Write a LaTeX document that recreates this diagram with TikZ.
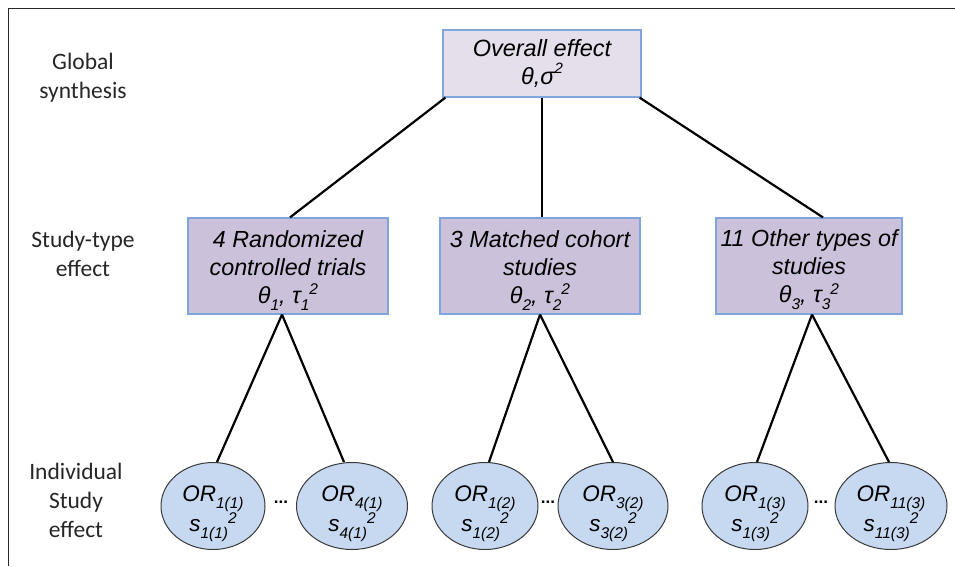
\documentclass[tikz,border=0pt]{standalone}
\usepackage{fontspec}
\setmainfont{Liberation Sans}
\newfontfamily\lblfont{Carlito}
\usetikzlibrary{shapes.geometric}
\definecolor{topfill}{HTML}{E5DFEC}
\definecolor{midfill}{HTML}{CCC1DA}
\definecolor{boxline}{HTML}{7FA5DC}
\definecolor{ellfill}{HTML}{C6D9F1}
\definecolor{ellline}{HTML}{3A3A3A}
\newcommand{\sbs}[1]{\raisebox{-0.3em}{\fontsize{15.5}{15.5}\selectfont #1}}
\newcommand{\sps}[1]{\raisebox{0.38em}{\fontsize{15.5}{15.5}\selectfont #1}}
\newcommand{\spt}[1]{\raisebox{0.45em}{\fontsize{15}{15}\selectfont #1}}
\newcommand{\topstrut}[1]{\rule{0pt}{#1}}
\begin{document}
\begin{tikzpicture}[x=1pt,y=-1pt,
  lbl/.style={align=center,font=\lblfont\fontsize{23.5}{29}\selectfont,text=black!85},
  topbox/.style={draw=boxline,line width=1.2pt,fill=topfill,minimum width=198pt,minimum height=67pt,align=center,inner sep=0pt,font=\itshape\fontsize{23.5}{28}\selectfont},
  midbox/.style={draw=boxline,line width=1.2pt,fill=midfill,minimum height=96pt,align=center,inner sep=0pt,font=\itshape\fontsize{23.3}{28}\selectfont},
  orell/.style={ellipse,draw=ellline,line width=1pt,fill=ellfill,minimum width=108pt,minimum height=87pt,inner xsep=0pt,inner ysep=-14pt,align=center,font=\itshape\fontsize{22.5}{27}\selectfont},
  edge/.style={line width=2.2pt,black},
  dots/.style={font=\fontsize{17}{17}\selectfont\bfseries,inner sep=0pt}]
\useasboundingbox (0,0) rectangle (955,566);
\draw[line width=1.8pt,black!85] (8.5,566) -- (8.5,8.5) -- (955,8.5);

\node[lbl] (l1) at (83,78) {Global\\synthesis};
\node[lbl] (l2) at (83,254) {Study-type\\effect};
\node[lbl] (l3) at (76,500) {Individual\\Study\\effect};

\node[topbox] (top) at (542,63.5) {Overall effect\\θ,σ\spt{2}};

\node[midbox,minimum width=200pt] (b1) at (288,266) {\topstrut{25pt}4 Randomized\\controlled trials\\θ\sbs{1}, τ\sbs{1}\sps{2}};
\node[midbox,minimum width=200pt] (b2) at (540,266) {\topstrut{25pt}3 Matched cohort\\studies\\θ\sbs{2}, τ\sbs{2}\sps{2}};
\node[midbox,minimum width=186pt] (b3) at (809,266) {\topstrut{25pt}11 Other types of\\studies\\θ\sbs{3}, τ\sbs{3}\sps{2}};

\node[orell,minimum width=104pt] (e1) at (213,506) {\topstrut{31pt}OR\sbs{1(1)}\\s\sbs{1(1)}\sps{2}};
\node[orell,minimum width=111pt] (e2) at (352,506) {\topstrut{31pt}OR\sbs{4(1)}\\s\sbs{4(1)}\sps{2}};
\node[orell,minimum width=106pt] (e3) at (485,506) {\topstrut{31pt}OR\sbs{1(2)}\\s\sbs{1(2)}\sps{2}};
\node[orell,minimum width=110pt] (e4) at (613,506) {\topstrut{31pt}OR\sbs{3(2)}\\s\sbs{3(2)}\sps{2}};
\node[orell,minimum width=106pt] (e5) at (755,506) {\topstrut{31pt}OR\sbs{1(3)}\\s\sbs{1(3)}\sps{2}};
\node[orell,minimum width=112pt] (e6) at (891,506) {\topstrut{31pt}OR\sbs{11(3)}\\s\sbs{11(3)}\sps{2}};

\node[dots] (d1) at (281,502) {...};
\node[dots] (d2) at (548,502) {...};
\node[dots] (d3) at (821,502) {...};

\draw[edge] ([xshift=3pt]top.south west) -- ([xshift=2pt]b1.north);
\draw[edge] (top.south) -- ([xshift=2pt]b2.north);
\draw[edge] ([xshift=-2pt]top.south east) -- ([xshift=14pt]b3.north);

\draw[edge] ([xshift=-6pt]b1.south) -- ([xshift=4pt]e1.north);
\draw[edge] ([xshift=-6pt]b1.south) -- ([xshift=-8pt]e2.north);
\draw[edge] (b2.south) -- ([xshift=4pt]e3.north);
\draw[edge] (b2.south) -- (e4.north);
\draw[edge] ([xshift=3pt]b3.south) -- ([xshift=2pt]e5.north);
\draw[edge] ([xshift=3pt]b3.south) -- ([xshift=-2pt]e6.north);
\end{tikzpicture}
\end{document}
